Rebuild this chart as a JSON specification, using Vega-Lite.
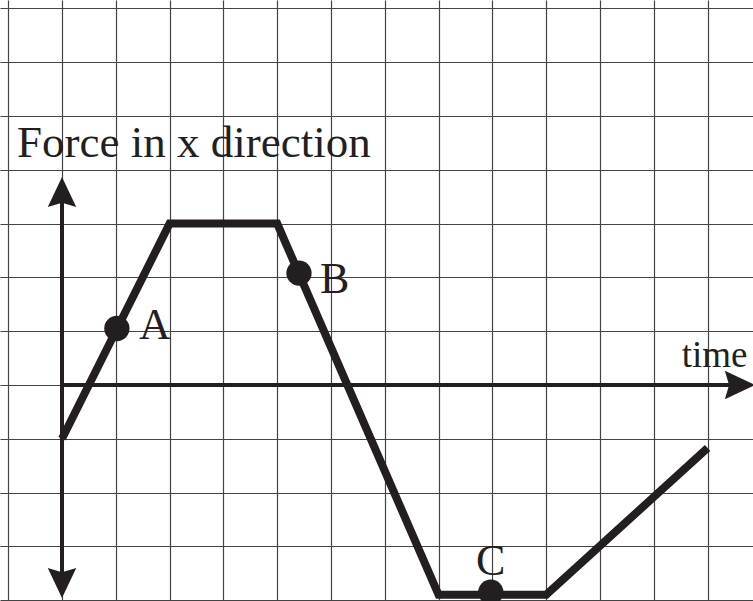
{
  "$schema": "https://vega.github.io/schema/vega-lite/v6.json",
  "width": 753,
  "height": 601,
  "padding": 0,
  "autosize": {"type": "none"},
  "background": "white",
  "config": {"view": {"stroke": null}},
  "datasets": {
    "curve": [
      {"t": 0, "force": -1},
      {"t": 2, "force": 3},
      {"t": 4, "force": 3},
      {"t": 7, "force": -3.9},
      {"t": 9, "force": -3.9},
      {"t": 12, "force": -1.17}
    ],
    "axisLines": [
      {"x": 0, "y": -3.68, "x2": 0, "y2": 3.587},
      {"x": 0, "y": 0, "x2": 12.6, "y2": 0}
    ],
    "arrowHeads": [
      {"x": 0, "y": 3.587, "dir": "up"},
      {"x": 0, "y": -3.68, "dir": "down"},
      {"x": 12.6, "y": 0, "dir": "right"}
    ],
    "points": [
      {"t": 1.02, "force": 1.05, "name": "A"},
      {"t": 4.405, "force": 2.08, "name": "B"},
      {"t": 7.97, "force": -3.85, "name": "C"}
    ],
    "labels": [
      {"kind": "point", "text": "A", "x": 1.431, "y": 0.855},
      {"kind": "point", "text": "B", "x": 4.796, "y": 1.71},
      {"kind": "point", "text": "C", "x": 7.695, "y": -3.53},
      {"kind": "axis", "text": "time", "x": 11.52, "y": 0.335},
      {"kind": "title", "text": "Force in x direction", "x": -0.836, "y": 4.238}
    ]
  },
  "layer": [
    {
      "data": {"name": "curve"},
      "mark": {"type": "line", "color": "#231f20", "strokeWidth": 8, "strokeJoin": "miter", "strokeCap": "butt"},
      "encoding": {
        "x": {
          "field": "t", "type": "quantitative",
          "scale": {"domain": [-1.1524, 12.844], "nice": false, "zero": false},
          "axis": {
            "values": [-1, 0, 1, 2, 3, 4, 5, 6, 7, 8, 9, 10, 11, 12],
            "grid": true, "gridColor": "#444444", "gridWidth": 1.2, "gridOpacity": 1,
            "domain": false, "ticks": false, "labels": false, "title": null
          }
        },
        "y": {
          "field": "force", "type": "quantitative",
          "scale": {"domain": [-4.015, 7.156], "nice": false, "zero": false},
          "axis": {
            "values": [-4, -3, -2, -1, 0, 1, 2, 3, 4, 5, 6, 7],
            "grid": true, "gridColor": "#444444", "gridWidth": 1.2, "gridOpacity": 1,
            "domain": false, "ticks": false, "labels": false, "title": null
          }
        }
      }
    },
    {
      "data": {"name": "axisLines"},
      "mark": {"type": "rule", "color": "#231f20", "strokeWidth": 4},
      "encoding": {
        "x": {"field": "x", "type": "quantitative"},
        "y": {"field": "y", "type": "quantitative"},
        "x2": {"field": "x2"},
        "y2": {"field": "y2"}
      }
    },
    {
      "data": {"name": "arrowHeads"},
      "transform": [{"filter": "datum.dir === 'up'"}],
      "mark": {
        "type": "point", "filled": true, "opacity": 1, "color": "#231f20",
        "shape": "M0,-1 L0.95,1 L0,0.72 L-0.95,1 Z", "size": 900, "angle": 0
      },
      "encoding": {
        "x": {"field": "x", "type": "quantitative"},
        "y": {"field": "y", "type": "quantitative"}
      }
    },
    {
      "data": {"name": "arrowHeads"},
      "transform": [{"filter": "datum.dir === 'down'"}],
      "mark": {
        "type": "point", "filled": true, "opacity": 1, "color": "#231f20",
        "shape": "M0,-1 L0.95,1 L0,0.72 L-0.95,1 Z", "size": 900, "angle": 180
      },
      "encoding": {
        "x": {"field": "x", "type": "quantitative"},
        "y": {"field": "y", "type": "quantitative"}
      }
    },
    {
      "data": {"name": "arrowHeads"},
      "transform": [{"filter": "datum.dir === 'right'"}],
      "mark": {
        "type": "point", "filled": true, "opacity": 1, "color": "#231f20",
        "shape": "M0,-1 L0.95,1 L0,0.72 L-0.95,1 Z", "size": 900, "angle": 90
      },
      "encoding": {
        "x": {"field": "x", "type": "quantitative"},
        "y": {"field": "y", "type": "quantitative"}
      }
    },
    {
      "data": {"name": "points"},
      "mark": {"type": "circle", "color": "#231f20", "opacity": 1, "size": 640},
      "encoding": {
        "x": {"field": "t", "type": "quantitative"},
        "y": {"field": "force", "type": "quantitative"}
      }
    },
    {
      "data": {"name": "labels"},
      "transform": [{"filter": "datum.kind === 'point'"}],
      "mark": {"type": "text", "font": "Liberation Serif", "fontSize": 44, "color": "#231f20", "align": "left", "baseline": "alphabetic"},
      "encoding": {
        "x": {"field": "x", "type": "quantitative"},
        "y": {"field": "y", "type": "quantitative"},
        "text": {"field": "text"}
      }
    },
    {
      "data": {"name": "labels"},
      "transform": [{"filter": "datum.kind === 'axis'"}],
      "mark": {"type": "text", "font": "Liberation Serif", "fontSize": 37, "color": "#231f20", "align": "left", "baseline": "alphabetic"},
      "encoding": {
        "x": {"field": "x", "type": "quantitative"},
        "y": {"field": "y", "type": "quantitative"},
        "text": {"field": "text"}
      }
    },
    {
      "data": {"name": "labels"},
      "transform": [{"filter": "datum.kind === 'title'"}],
      "mark": {"type": "text", "font": "Liberation Serif", "fontSize": 45, "color": "#231f20", "align": "left", "baseline": "alphabetic"},
      "encoding": {
        "x": {"field": "x", "type": "quantitative"},
        "y": {"field": "y", "type": "quantitative"},
        "text": {"field": "text"}
      }
    }
  ]
}
